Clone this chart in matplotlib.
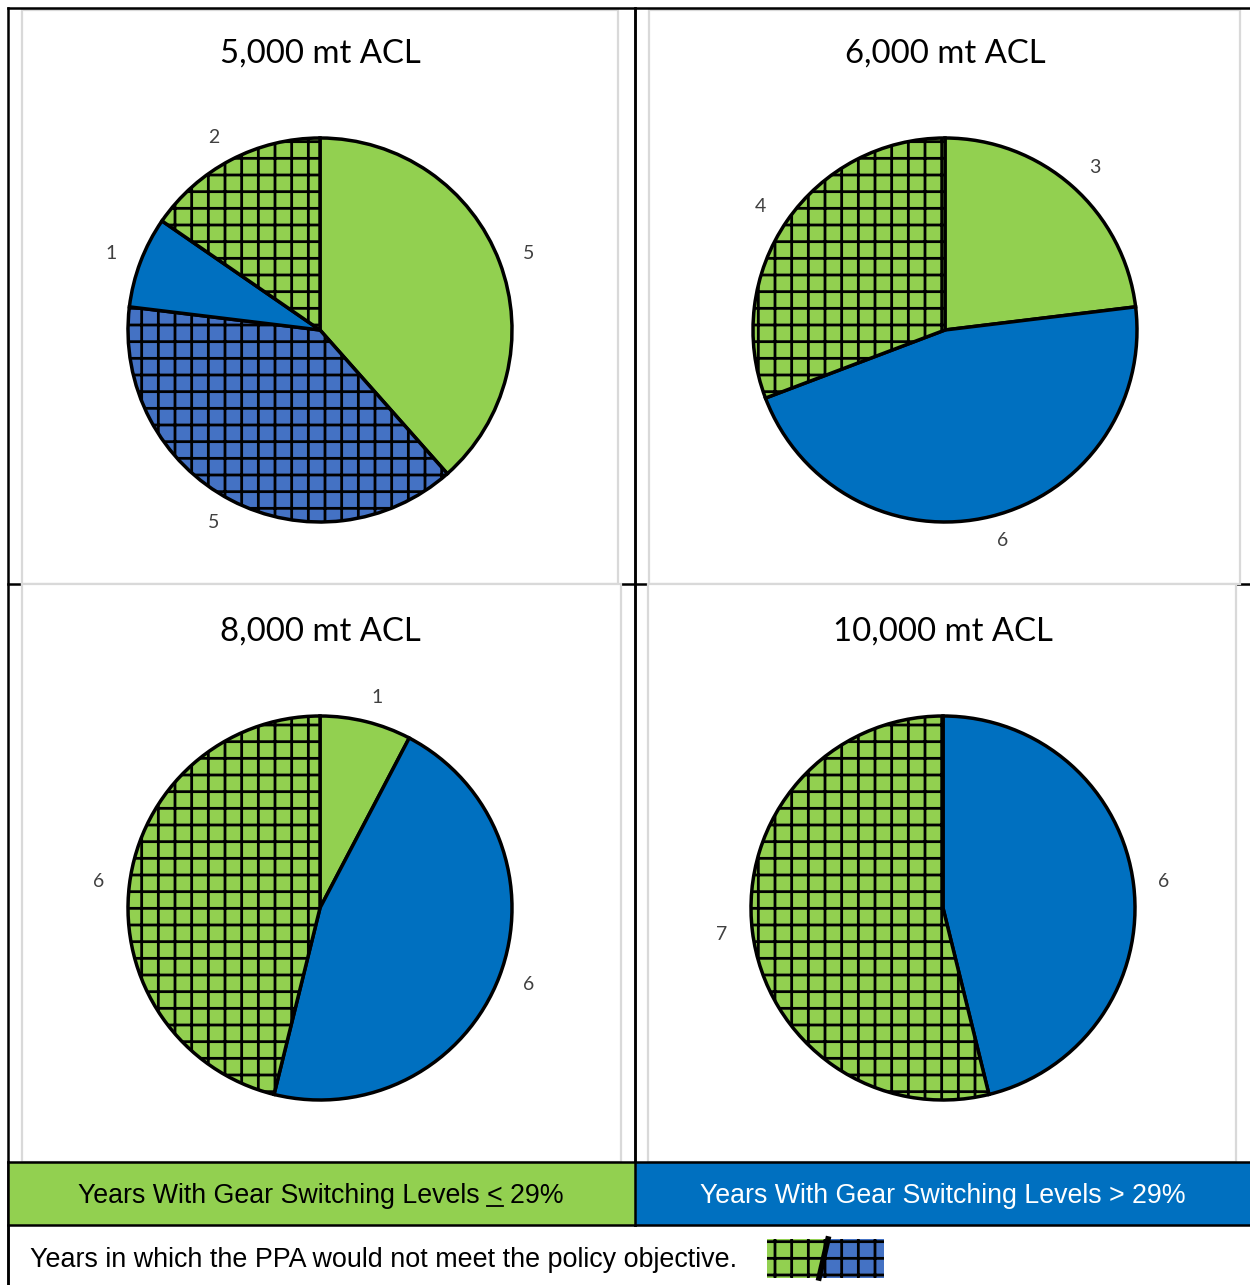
import matplotlib
matplotlib.use("Agg")
import matplotlib.pyplot as plt
from matplotlib.patches import Rectangle, Polygon
from matplotlib.lines import Line2D

W, H = 1250, 1285

GREEN = "#92D050"
BLUE = "#0070C0"
BLUE_H = "#4472C4"

# pie data, clockwise from 12 o'clock
titles = ["5,000 mt ACL", "6,000 mt ACL", "8,000 mt ACL", "10,000 mt ACL"]
values = [
    [5, 5, 1, 2],
    [3, 6, 4],
    [1, 6, 6],
    [6, 7],
]
kinds = [
    ["g", "bh", "b", "gh"],
    ["g", "b", "gh"],
    ["g", "b", "gh"],
    ["b", "gh"],
]
legend_left = "Years With Gear Switching Levels < 29%"
legend_right = "Years With Gear Switching Levels > 29%"
footer = "Years in which the PPA would not meet the policy objective."

plt.rcParams["hatch.linewidth"] = 2.0
plt.rcParams["hatch.color"] = "black"

fig = plt.figure(figsize=(W / 100, H / 100), dpi=100)


def fx(x):
    return x / W


def fy(y):
    return 1 - y / H


def hline(x0, x1, y, c="black", lw=1.6, z=1):
    fig.add_artist(Line2D([fx(x0), fx(x1)], [fy(y), fy(y)], color=c, lw=lw, zorder=z))


def vline(x, y0, y1, c="black", lw=1.6, z=1):
    fig.add_artist(Line2D([fx(x), fx(x)], [fy(y0), fy(y1)], color=c, lw=lw, zorder=z))


def rect(x0, y0, x1, y1, fc="white", ec="none", lw=1.5, z=2, hatch=None):
    r = Rectangle((fx(x0), fy(y1)), fx(x1) - fx(x0), fy(y0) - fy(y1),
                  facecolor=fc, edgecolor=ec, lw=lw, zorder=z, hatch=hatch,
                  transform=fig.transFigure)
    fig.add_artist(r)
    return r


# table grid
vline(8, 8, H, lw=1.8)
hline(8, W, 8, lw=1.8, z=3)
vline(635, 8, 1225, lw=1.8)
hline(8, W, 584, lw=1.8)

# chart panels
panels = [(22, 10, 618, 584), (649, 10, 1240, 584),
          (22, 584, 621, 1162), (648, 584, 1236, 1162)]
for p in panels:
    rect(*p, fc="white", ec="#d9d9d9", lw=1.6, z=2)
vline(635, 8, 1225, lw=1.8, z=3)

# legend row
rect(8, 1162, 635, 1225, fc=GREEN, z=3)
rect(635, 1162, W, 1225, fc=BLUE, z=3)
hline(8, W, 1162, lw=1.8, z=4)
hline(8, W, 1225, lw=1.8, z=4)
vline(635, 1162, 1225, lw=1.8, z=4)
vline(8, 1162, H, lw=1.8, z=4)

fill = {"g": (GREEN, None), "gh": (GREEN, "+"), "b": (BLUE, None), "bh": (BLUE_H, "+")}
centers = [(320, 330), (945, 330), (320, 908), (943, 908)]
title_base = [63, 63, 641, 641]
R = 192

for i in range(4):
    cx, cy = centers[i]
    ax = fig.add_axes([fx(cx - R), fy(cy + R), 2 * R / W, 2 * R / H], zorder=5)
    cols = [fill[k][0] for k in kinds[i]]
    wedges, texts = ax.pie(values[i], colors=cols, startangle=90, counterclock=False,
                           labels=[str(v) for v in values[i]], labeldistance=1.13,
                           wedgeprops=dict(edgecolor="black", linewidth=2.5),
                           textprops=dict(color="#404040", fontsize=14, family="Lato"))
    for w, k in zip(wedges, kinds[i]):
        if fill[k][1]:
            w.set_hatch(fill[k][1])
    ax.set_xlim(-1, 1)
    ax.set_ylim(-1, 1)
    ax.set_aspect("equal")
    ax.axis("off")
    fig.text(fx(cx), fy(title_base[i]), titles[i], ha="center", va="baseline",
             fontsize=23.7, family="Lato", color="black", zorder=6)

# legend labels; the left one gets an underlined "<" for "less than or equal"
LFS = 19.3
t1 = fig.text(fx(321), fy(1203), legend_left, ha="center", va="baseline",
              fontsize=LFS, family="Liberation Sans", color="black", zorder=6)
fig.text(fx(943), fy(1203), legend_right, ha="center", va="baseline",
         fontsize=LFS, family="Liberation Sans", color="white", zorder=6)

fig.canvas.draw()
rend = fig.canvas.get_renderer()
bb = t1.get_window_extent(rend)
pre = fig.text(0, 0, legend_left.split("<")[0], fontsize=LFS, family="Liberation Sans")
lt = fig.text(0, 0, "<", fontsize=LFS, family="Liberation Sans")
w_pre = pre.get_window_extent(rend).width
w_lt = lt.get_window_extent(rend).width
pre.remove()
lt.remove()
ux0 = bb.x0 + w_pre
uy = (H - 1203) - 3
fig.add_artist(Line2D([ux0 / W, (ux0 + w_lt) / W], [uy / H, uy / H],
                      color="black", lw=1.3, zorder=6))

# footer and its hatch swatch
fig.text(fx(30), fy(1267), footer, ha="left", va="baseline",
         fontsize=19.4, family="Liberation Sans", color="black", zorder=6)
sx0, sx1, sy0, sy1 = 767, 884, 1239, 1278
tx, bx = 828, 819
fig.add_artist(Polygon([(fx(sx0), fy(sy0)), (fx(tx), fy(sy0)), (fx(bx), fy(sy1)), (fx(sx0), fy(sy1))],
                       closed=True, facecolor=GREEN, edgecolor="black", lw=0, hatch="+",
                       transform=fig.transFigure, zorder=6))
fig.add_artist(Polygon([(fx(tx), fy(sy0)), (fx(sx1), fy(sy0)), (fx(sx1), fy(sy1)), (fx(bx), fy(sy1))],
                       closed=True, facecolor=BLUE_H, edgecolor="black", lw=0, hatch="+",
                       transform=fig.transFigure, zorder=6))
fig.add_artist(Line2D([fx(tx), fx(bx)], [fy(sy0), fy(sy1)], color="black", lw=4, zorder=7))

fig.savefig("out.png", dpi=100)
